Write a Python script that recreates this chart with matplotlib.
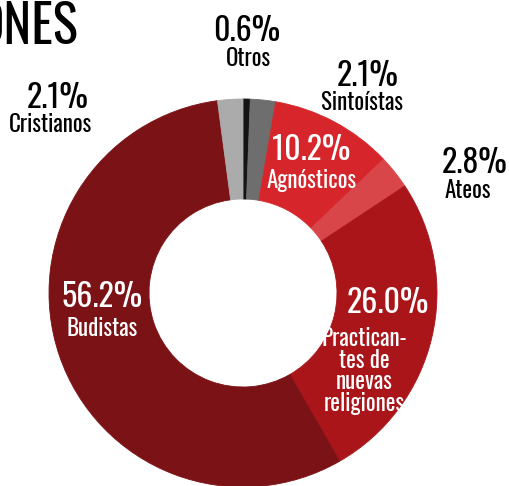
import matplotlib
matplotlib.use("Agg")
import matplotlib.pyplot as plt
from matplotlib import font_manager

# Religiones en Japón (%), clockwise from the top
categorias = ["Otros", "Sintoístas", "Agnósticos", "Ateos",
              "Practicantes de nuevas religiones", "Budistas", "Cristianos"]
valores = [0.6, 2.1, 10.2, 2.8, 26.0, 56.2, 2.1]
etiquetas = ["Otros", "Sintoístas", "Agnósticos", "Ateos",
             "Practican-\ntes de\nnuevas\nreligiones", "Budistas", "Cristianos"]

colores = ["#141414", "#6e6e6e", "#d6262b", "#d9464a", "#aa151a", "#7b1215", "#ababab"]

# pick a condensed family if one is installed
names = {f.name for f in font_manager.fontManager.ttflist}
FONT = ["DejaVu Sans"]
for cand in ["Oswald", "Roboto Condensed", "Fjalla One", "Pathway Gothic One",
             "Archivo Narrow", "PT Sans Narrow", "Liberation Sans Narrow"]:
    if cand in names:
        FONT = [cand, "DejaVu Sans"]
        break

W, H = 510, 486
fig = plt.figure(figsize=(W / 100, H / 100), dpi=100)
ax = fig.add_axes([0, 0, 1, 1])

cx, cy = 243, H - 293
R_out, R_in = 194, 94
wedges, _ = ax.pie(valores, colors=colores, startangle=90, counterclock=False,
                   radius=R_out, center=(cx, cy),
                   wedgeprops=dict(width=R_out - R_in, linewidth=0.6))
for w in wedges:
    w.set_edgecolor(w.get_facecolor())
ax.set_xlim(0, W)
ax.set_ylim(0, H)
ax.set_aspect("equal")
ax.axis("off")

# label positions in pixels from top-left: (x_pct, y_pct, x_name, y_name, color)
pos = {
    "Otros": (247, 31, 248, 59, "black"),
    "Sintoístas": (368, 76, 362, 103, "black"),
    "Agnósticos": (311, 150, 312, 181, "white"),
    "Ateos": (475, 163, 468, 190, "black"),
    "Practicantes de nuevas religiones": (388, 303, 364, 371, "white"),
    "Budistas": (102, 297, 102, 329, "white"),
    "Cristianos": (58, 98, 51, 125, "black"),
}

for cat, val, lab in zip(categorias, valores, etiquetas):
    xp, yp, xn, yn, c = pos[cat]
    ax.text(xp, H - yp, f"{val:.1f}%", ha="center", va="center", color=c,
            fontsize=23, fontweight="medium", family=FONT)
    ax.text(xn, H - yn, lab, ha="center", va="center", color=c,
            fontsize=16.5, family=FONT, linespacing=0.93)

ax.text(78, H - 28, "ONES", ha="right", va="center", color="black",
        fontsize=38, family=FONT)

fig.savefig("out.png", dpi=100)
